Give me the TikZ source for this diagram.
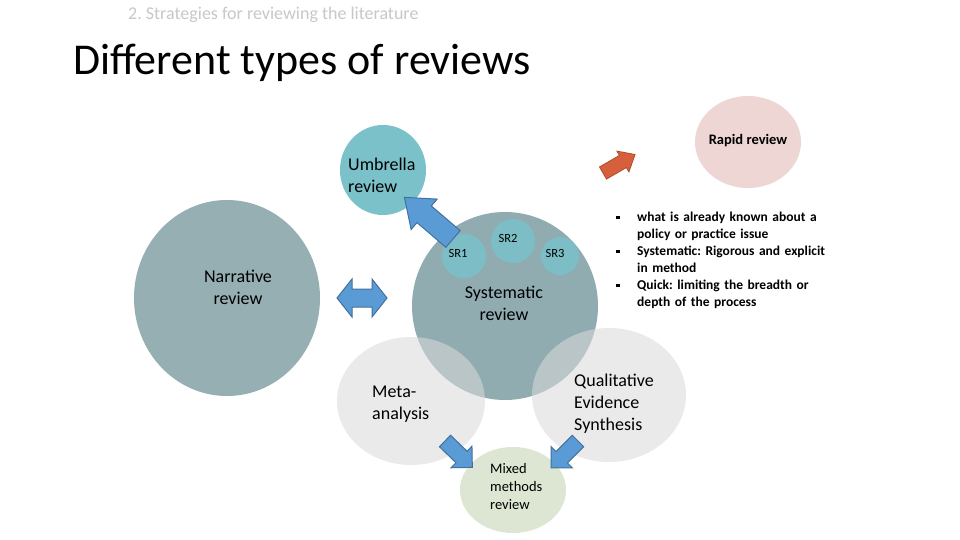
\documentclass[tikz,border=0pt]{standalone}
\usepackage{fontspec}
\setmainfont{Carlito}
\frenchspacing
\definecolor{narr}{HTML}{95AFB3}
\definecolor{syst}{HTML}{91ACB1}
\definecolor{umb}{HTML}{7BC1C9}
\definecolor{srf}{HTML}{7DBEC6}
\definecolor{lightc}{HTML}{DADADA}
\definecolor{mixf}{HTML}{DCE6D2}
\definecolor{rapf}{HTML}{EDD6D4}
\definecolor{arrb}{HTML}{5B9BD5}
\definecolor{arrbd}{HTML}{41719C}
\definecolor{arrr}{HTML}{D65F3C}
\definecolor{arrrd}{HTML}{B04A2C}
\definecolor{hdr}{HTML}{C8C8C8}
\newcommand{\blkarrow}[7]{%
\begin{scope}[shift={#2},rotate=#3]
\draw[#1] (0,-#5) -- ({#4-#7},-#5) -- ({#4-#7},-#6) -- (#4,0) -- ({#4-#7},#6) -- ({#4-#7},#5) -- (0,#5) -- cycle;
\end{scope}}
\newcommand{\sqbul}{\makebox[21pt][l]{\raisebox{2.5pt}{\rule{3.5pt}{3.5pt}}}}
\tikzset{
  lbl/.style={font=\fontsize{18}{22}\selectfont, text=black, inner sep=0pt},
  blue arr/.style={fill=arrb, draw=arrbd, line width=1pt, line join=miter},
  red arr/.style={fill=arrr, draw=arrrd, line width=0.8pt},
}
\begin{document}
\begin{tikzpicture}[x=1pt,y=-1pt]
\useasboundingbox (0,0) rectangle (960,540);
\fill[white] (0,0) rectangle (960,540);
% header and title
\node[anchor=base west, inner sep=0pt, text=hdr, font=\fontsize{18}{20}\selectfont] (hdr) at (128,20) {2. Strategies for reviewing the literature};
\node[anchor=base west, inner sep=0pt, font=\fontsize{44}{50}\selectfont] (title) at (73,75) {Different types of reviews};
% circles
\fill[narr] (227,298) ellipse [x radius=93, y radius=98];
\fill[syst] (505,306) ellipse [x radius=93, y radius=94];
\fill[umb] (383,170) ellipse [x radius=43, y radius=45];
\fill[srf] (464,256) circle (22);
\fill[srf] (513,241) circle (22);
\fill[srf] (560,256) circle (19);
\fill[rapf] (748,142) ellipse [x radius=53, y radius=46];
\fill[lightc, fill opacity=0.55] (411,401) ellipse [x radius=74, y radius=64];
\fill[lightc, fill opacity=0.55] (609,395) ellipse [x radius=77, y radius=67];
\fill[mixf] (513,490) ellipse [x radius=53, y radius=43];
% arrows
\blkarrow{blue arr}{(453,239)}{139.4}{64}{11}{20}{26}
\blkarrow{red arr}{(603,173)}{30}{37}{7}{12}{14}
\blkarrow{blue arr}{(445,441)}{-44}{38}{8}{15}{15}
\blkarrow{blue arr}{(578,441)}{-135}{38}{8}{15}{15}
\begin{scope}[shift={(362,298)}]
\draw[blue arr] (-25,0) -- (-10,-19) -- (-10,-9) -- (10,-9) -- (10,-19) -- (25,0) -- (10,19) -- (10,9) -- (-10,9) -- (-10,19) -- cycle;
\end{scope}
% labels
\node[lbl, align=left, anchor=north west] (umbrella) at (348,158) {Umbrella\\review};
\node[lbl, align=center] (narrative) at (238,287) {Narrative\\review};
\node[lbl, align=center] (systematic) at (504,303) {Systematic\\review};
\node[font=\fontsize{12.5}{14}\selectfont, inner sep=0pt] (sr1) at (458,253) {SR1};
\node[font=\fontsize{12.5}{14}\selectfont, inner sep=0pt] (sr2) at (508,238) {SR2};
\node[font=\fontsize{12.5}{14}\selectfont, inner sep=0pt] (sr3) at (555,253) {SR3};
\node[font=\bfseries\fontsize{14.5}{16}\selectfont, inner sep=0pt] (rapid) at (748,141) {Rapid review};
\node[lbl, align=left, anchor=north west] (meta) at (372,386) {Meta-\\analysis};
\node[lbl, align=left, anchor=north west] (qes) at (574,374) {Qualitative\\Evidence\\Synthesis};
\node[font=\fontsize{14.5}{18}\selectfont, inner sep=0pt, align=left, anchor=north west] (mixed) at (490,463) {Mixed\\methods\\review};
\node[font=\bfseries\fontsize{13.5}{17}\selectfont, inner sep=0pt, anchor=north west, text width=230pt, align=left] (bullets) at (616,212) {%
\sqbul what is already known about a\\
\hspace*{21pt}policy or practice issue\\
\sqbul Systematic: Rigorous and explicit\\
\hspace*{21pt}in method\\
\sqbul Quick: limiting the breadth or\\
\hspace*{21pt}depth of the process};
\end{tikzpicture}
\end{document}
